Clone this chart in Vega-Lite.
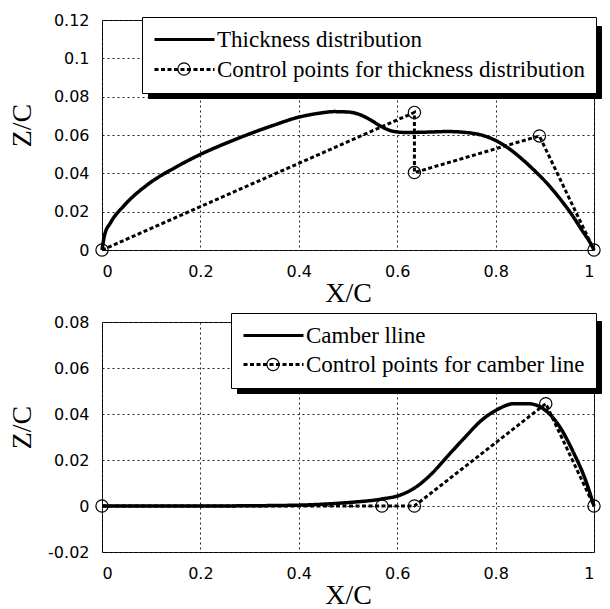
{
  "$schema": "https://vega.github.io/schema/vega-lite/v6.json",
  "padding": {"left": 7, "top": 11, "right": 0, "bottom": 0},
  "autosize": {"type": "pad"},
  "background": "white",
  "spacing": 72,
  "bounds": "flush",
  "datasets": {
    "top": [
      {"s": "Thickness distribution", "i": 0, "x": 0, "z": 0},
      {"s": "Thickness distribution", "i": 1, "x": 0.005, "z": 0.0075},
      {"s": "Thickness distribution", "i": 2, "x": 0.018, "z": 0.0145},
      {"s": "Thickness distribution", "i": 3, "x": 0.045, "z": 0.0232},
      {"s": "Thickness distribution", "i": 4, "x": 0.093, "z": 0.0342},
      {"s": "Thickness distribution", "i": 5, "x": 0.15, "z": 0.0432},
      {"s": "Thickness distribution", "i": 6, "x": 0.201, "z": 0.05},
      {"s": "Thickness distribution", "i": 7, "x": 0.25, "z": 0.0555},
      {"s": "Thickness distribution", "i": 8, "x": 0.296, "z": 0.0602},
      {"s": "Thickness distribution", "i": 9, "x": 0.35, "z": 0.0652},
      {"s": "Thickness distribution", "i": 10, "x": 0.398, "z": 0.0692},
      {"s": "Thickness distribution", "i": 11, "x": 0.44, "z": 0.0713},
      {"s": "Thickness distribution", "i": 12, "x": 0.472, "z": 0.0722},
      {"s": "Thickness distribution", "i": 13, "x": 0.5, "z": 0.072},
      {"s": "Thickness distribution", "i": 14, "x": 0.52, "z": 0.071},
      {"s": "Thickness distribution", "i": 15, "x": 0.545, "z": 0.068},
      {"s": "Thickness distribution", "i": 16, "x": 0.567, "z": 0.0645},
      {"s": "Thickness distribution", "i": 17, "x": 0.594, "z": 0.0618},
      {"s": "Thickness distribution", "i": 18, "x": 0.62, "z": 0.0613},
      {"s": "Thickness distribution", "i": 19, "x": 0.66, "z": 0.0615},
      {"s": "Thickness distribution", "i": 20, "x": 0.703, "z": 0.0618},
      {"s": "Thickness distribution", "i": 21, "x": 0.74, "z": 0.0613},
      {"s": "Thickness distribution", "i": 22, "x": 0.775, "z": 0.0597},
      {"s": "Thickness distribution", "i": 23, "x": 0.805, "z": 0.0565},
      {"s": "Thickness distribution", "i": 24, "x": 0.83, "z": 0.0524},
      {"s": "Thickness distribution", "i": 25, "x": 0.852, "z": 0.0478},
      {"s": "Thickness distribution", "i": 26, "x": 0.88, "z": 0.0412},
      {"s": "Thickness distribution", "i": 27, "x": 0.906, "z": 0.0344},
      {"s": "Thickness distribution", "i": 28, "x": 0.93, "z": 0.027},
      {"s": "Thickness distribution", "i": 29, "x": 0.954, "z": 0.0188},
      {"s": "Thickness distribution", "i": 30, "x": 0.975, "z": 0.0105},
      {"s": "Thickness distribution", "i": 31, "x": 0.994, "z": 0.003},
      {"s": "Thickness distribution", "i": 32, "x": 1, "z": 0},
      {"s": "Control points for thickness distribution", "i": 0, "x": 0, "z": 0},
      {"s": "Control points for thickness distribution", "i": 1, "x": 0.635, "z": 0.0718},
      {"s": "Control points for thickness distribution", "i": 2, "x": 0.635, "z": 0.0404},
      {"s": "Control points for thickness distribution", "i": 3, "x": 0.889, "z": 0.0595},
      {"s": "Control points for thickness distribution", "i": 4, "x": 1, "z": 0}
    ],
    "bottom": [
      {"s": "Camber lline", "i": 0, "x": 0, "z": 0},
      {"s": "Camber lline", "i": 1, "x": 0.1, "z": 0},
      {"s": "Camber lline", "i": 2, "x": 0.2, "z": 0},
      {"s": "Camber lline", "i": 3, "x": 0.3, "z": 0.0001},
      {"s": "Camber lline", "i": 4, "x": 0.405, "z": 0.0004},
      {"s": "Camber lline", "i": 5, "x": 0.45, "z": 0.0008},
      {"s": "Camber lline", "i": 6, "x": 0.506, "z": 0.0016},
      {"s": "Camber lline", "i": 7, "x": 0.567, "z": 0.003},
      {"s": "Camber lline", "i": 8, "x": 0.608, "z": 0.0049},
      {"s": "Camber lline", "i": 9, "x": 0.635, "z": 0.0078},
      {"s": "Camber lline", "i": 10, "x": 0.669, "z": 0.0138},
      {"s": "Camber lline", "i": 11, "x": 0.703, "z": 0.0218},
      {"s": "Camber lline", "i": 12, "x": 0.737, "z": 0.0297},
      {"s": "Camber lline", "i": 13, "x": 0.77, "z": 0.037},
      {"s": "Camber lline", "i": 14, "x": 0.804, "z": 0.042},
      {"s": "Camber lline", "i": 15, "x": 0.838, "z": 0.0445},
      {"s": "Camber lline", "i": 16, "x": 0.866, "z": 0.0445},
      {"s": "Camber lline", "i": 17, "x": 0.893, "z": 0.0428},
      {"s": "Camber lline", "i": 18, "x": 0.927, "z": 0.0355},
      {"s": "Camber lline", "i": 19, "x": 0.96, "z": 0.0225},
      {"s": "Camber lline", "i": 20, "x": 0.981, "z": 0.0123},
      {"s": "Camber lline", "i": 21, "x": 1, "z": 0},
      {"s": "Control points for camber line", "i": 0, "x": 0, "z": 0},
      {"s": "Control points for camber line", "i": 1, "x": 0.569, "z": 0},
      {"s": "Control points for camber line", "i": 2, "x": 0.635, "z": 0},
      {"s": "Control points for camber line", "i": 3, "x": 0.902, "z": 0.0445},
      {"s": "Control points for camber line", "i": 4, "x": 1, "z": 0}
    ]
  },
  "config": {
    "view": {"stroke": "black", "strokeWidth": 1},
    "axis": {
      "labelFont": "DejaVu Sans", "labelFontSize": 16, "labelColor": "black",
      "titleFont": "Liberation Serif", "titleFontSize": 28, "titleFontWeight": "normal", "titleColor": "black",
      "grid": true, "gridColor": "#222", "gridDash": [2, 3], "gridWidth": 1, "gridOpacity": 1,
      "domain": false, "ticks": false, "tickSize": 0, "labelPadding": 13,
      "labelExpr": "replace(format(datum.value, '~g'), '−', '-')"
    },
    "axisX": {"titleY": 43, "titleBaseline": "middle", "titleAlign": "center", "titleX": 246},
    "axisY": {"titleX": -80, "titleY": 105, "titleAngle": 270, "titleAlign": "center", "titleBaseline": "middle"},
    "legend": {
      "labelFont": "Liberation Serif", "labelFontSize": 23, "labelColor": "black", "labelLimit": 0
    }
  },
  "resolve": {"scale": {"strokeDash": "independent", "shape": "independent", "color": "independent"}},
  "vconcat": [
    {
      "width": 492, "height": 230,
      "data": {"name": "top"},
      "encoding": {
        "x": {"field": "x", "type": "quantitative", "title": "X/C",
          "scale": {"domain": [0, 1], "nice": false},
          "axis": {"values": [0, 0.2, 0.4, 0.6, 0.8, 1]}},
        "y": {"field": "z", "type": "quantitative", "title": "Z/C",
          "scale": {"domain": [0, 0.12], "nice": false},
          "axis": {"values": [0, 0.02, 0.04, 0.06, 0.08, 0.1, 0.12]}}
      },
      "layer": [
        {
          "transform": [{"filter": "datum.s == 'Control points for thickness distribution'"}],
          "mark": {"type": "point", "filled": false, "size": 0, "strokeWidth": 0},
          "encoding": {
            "color": {"field": "s", "type": "nominal", "scale": {"range": ["black"]},
              "legend": {"title": null, "orient": "none", "legendX": 46, "legendY": 6,
                "strokeColor": "black", "fillColor": "black", "padding": 11,
                "symbolType": "circle", "symbolSize": 2500, "symbolStrokeWidth": 0,
                "labelOffset": 13, "labelColor": "black"}}
          }
        },
        {
          "transform": [{"filter": "datum.s == 'Control points for thickness distribution'"}],
          "mark": {"type": "line", "color": "black", "strokeWidth": 3, "interpolate": "linear"},
          "encoding": {
            "order": {"field": "i", "type": "quantitative"},
            "strokeDash": {"field": "s", "type": "nominal",
              "scale": {"domain": ["Thickness distribution", "Control points for thickness distribution"], "range": [[1, 0], [4, 2.5]]},
              "legend": {"title": null, "orient": "none", "legendX": 40, "legendY": -3,
                "strokeColor": "black", "fillColor": "white", "padding": 11,
                "symbolType": "M-1,0H5", "symbolSize": 400, "symbolStrokeWidth": 3, "symbolStrokeColor": "black", "symbolFillColor": "transparent",
                "labelOffset": 41, "rowPadding": 6}}
          }
        },
        {
          "transform": [{"filter": "datum.s == 'Thickness distribution'"}],
          "mark": {"type": "line", "color": "black", "strokeWidth": 3.5, "interpolate": "monotone"},
          "encoding": {
            "order": {"field": "i", "type": "quantitative"},
            "strokeDash": {"field": "s", "type": "nominal"}
          }
        },
        {
          "transform": [{"filter": "datum.s == 'Control points for thickness distribution'"}],
          "mark": {"type": "point", "filled": false, "color": "black", "strokeWidth": 1.2, "size": 150, "opacity": 1},
          "encoding": {
            "shape": {"field": "s", "type": "nominal",
              "scale": {"domain": ["Control points for thickness distribution"], "range": ["circle"]},
              "legend": {"title": null, "orient": "none", "legendX": 75, "legendY": 42, "padding": 0,
                "strokeColor": "transparent", "fillColor": "transparent",
                "symbolSize": 150, "symbolStrokeWidth": 1.2, "symbolStrokeColor": "black", "symbolFillColor": "transparent",
                "labelExpr": "''", "labelFontSize": 1}}
          }
        }
      ]
    },
    {
      "width": 492, "height": 230,
      "data": {"name": "bottom"},
      "encoding": {
        "x": {"field": "x", "type": "quantitative", "title": "X/C",
          "scale": {"domain": [0, 1], "nice": false},
          "axis": {"values": [0, 0.2, 0.4, 0.6, 0.8, 1]}},
        "y": {"field": "z", "type": "quantitative", "title": "Z/C",
          "scale": {"domain": [-0.02, 0.08], "nice": false},
          "axis": {"values": [-0.02, 0, 0.02, 0.04, 0.06, 0.08]}}
      },
      "layer": [
        {
          "transform": [{"filter": "datum.s == 'Control points for camber line'"}],
          "mark": {"type": "point", "filled": false, "size": 0, "strokeWidth": 0},
          "encoding": {
            "color": {"field": "s", "type": "nominal", "scale": {"range": ["black"]},
              "legend": {"title": null, "orient": "none", "legendX": 135, "legendY": -1,
                "strokeColor": "black", "fillColor": "black", "padding": 11,
                "symbolType": "circle", "symbolSize": 2500, "symbolStrokeWidth": 0,
                "labelOffset": 13, "labelColor": "black"}}
          }
        },
        {
          "transform": [{"filter": "datum.s == 'Control points for camber line'"}],
          "mark": {"type": "line", "color": "black", "strokeWidth": 3, "interpolate": "linear"},
          "encoding": {
            "order": {"field": "i", "type": "quantitative"},
            "strokeDash": {"field": "s", "type": "nominal",
              "scale": {"domain": ["Camber lline", "Control points for camber line"], "range": [[1, 0], [4, 2.5]]},
              "legend": {"title": null, "orient": "none", "legendX": 129, "legendY": -9,
                "strokeColor": "black", "fillColor": "white", "padding": 11,
                "symbolType": "M-1,0H5", "symbolSize": 400, "symbolStrokeWidth": 3, "symbolStrokeColor": "black", "symbolFillColor": "transparent",
                "labelOffset": 41, "rowPadding": 5}}
          }
        },
        {
          "transform": [{"filter": "datum.s == 'Camber lline'"}],
          "mark": {"type": "line", "color": "black", "strokeWidth": 3.5, "interpolate": "monotone"},
          "encoding": {
            "order": {"field": "i", "type": "quantitative"},
            "strokeDash": {"field": "s", "type": "nominal"}
          }
        },
        {
          "transform": [{"filter": "datum.s == 'Control points for camber line'"}],
          "mark": {"type": "point", "filled": false, "color": "black", "strokeWidth": 1.2, "size": 150, "opacity": 1},
          "encoding": {
            "shape": {"field": "s", "type": "nominal",
              "scale": {"domain": ["Control points for camber line"], "range": ["circle"]},
              "legend": {"title": null, "orient": "none", "legendX": 164, "legendY": 35.5, "padding": 0,
                "strokeColor": "transparent", "fillColor": "transparent",
                "symbolSize": 150, "symbolStrokeWidth": 1.2, "symbolStrokeColor": "black", "symbolFillColor": "transparent",
                "labelExpr": "''", "labelFontSize": 1}}
          }
        }
      ]
    }
  ]
}
